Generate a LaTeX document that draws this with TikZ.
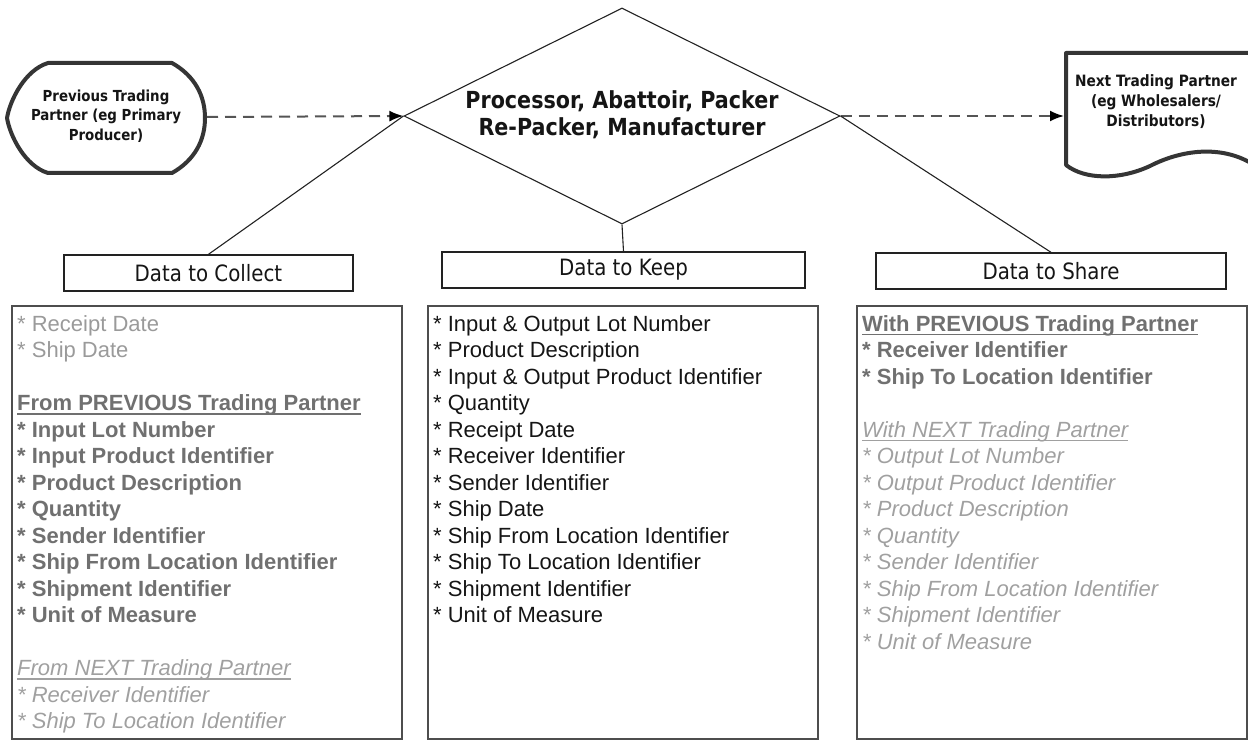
\documentclass[tikz,border=0pt]{standalone}
\usepackage{fontspec}
\setmainfont{Liberation Sans}
\newfontfamily\tah{DejaVu Sans}
\newfontfamily\tahc{DejaVu Sans}[FakeStretch=0.88]
\usetikzlibrary{shapes.geometric,arrows.meta}
\definecolor{edge}{HTML}{222222}
\definecolor{thick}{HTML}{353535}
\definecolor{dashc}{HTML}{555555}
\definecolor{gbold}{HTML}{707070}
\definecolor{greg}{HTML}{9A9A9A}
\definecolor{gital}{HTML}{A0A0A0}
\definecolor{txt}{HTML}{151515}
\begin{document}
\begin{tikzpicture}[x=1pt,y=-1pt,
  shapeline/.style={draw=thick,line width=4pt,line join=round},
  shapetext/.style={font=\tahc\bfseries\fontsize{15.2}{19.5}\selectfont,align=center,text=txt,inner sep=0pt},
  flow/.style={draw=dashc,line width=2pt,dash pattern=on 11pt off 7pt,-{Latex[length=14pt,width=11pt,black]}},
  link/.style={draw=edge,line width=1.1pt},
  headbox/.style={draw=edge,line width=1.4pt,fill=white,inner sep=0pt,font=\tahc\fontsize{22.5}{24}\selectfont,text=txt},
  listbox/.style={draw=edge!80,line width=1.3pt},
  item/.style={anchor=base west,inner sep=0pt,font=\fontsize{22}{26}\selectfont},
  ireg/.style={item,text=greg},
  ibold/.style={item,text=gbold,font=\fontsize{22}{26}\selectfont\bfseries},
  iital/.style={item,text=gital,font=\fontsize{22}{26}\selectfont\itshape},
  iblack/.style={item,text=txt},
  uline/.style={line width=1.4pt}
]
\useasboundingbox (0,0) rectangle (1248,741);

% Previous trading partner (display-like shape)
\path[shapeline,fill=white] (48,63) .. controls (25,70) and (10,100) .. (7,118)
  .. controls (10,136) and (25,166) .. (48,173) -- (172,173)
  .. controls (195,160) and (205,140) .. (205,118)
  .. controls (205,96) and (195,76) .. (172,63) -- cycle;
\node[shapetext] (prev) at (106,116) {Previous Trading\\Partner (eg Primary\\Producer)};
\coordinate (prevE) at (207,117);

% Next trading partner (document shape)
\path[shapeline,fill=white] (1066,53) -- (1066,165)
  .. controls (1085,180) and (1120,180) .. (1150,166)
  .. controls (1185,148) and (1225,146) .. (1254,165) -- (1254,53) -- cycle;
\node[shapetext,font=\tahc\bfseries\fontsize{15.6}{20}\selectfont] (next) at (1156,102) {Next Trading Partner\\(eg Wholesalers/\\Distributors)};
\coordinate (nextW) at (1064,116);

% central diamond
\node[diamond,draw=edge,line width=1.1pt,minimum width=436pt,minimum height=216pt,inner sep=0pt] (proc) at (622,116)
  {\smash{\makebox[0pt]{\raisebox{-7pt}{\tahc\bfseries\fontsize{23.5}{28}\selectfont\color{txt}\begin{tabular}{@{}c@{}}Processor, Abattoir, Packer\\[-1pt]Re-Packer, Manufacturer\end{tabular}}}}};

\draw[flow] (prevE) -- (proc.west);
\draw[flow] (proc.east) -- (nextW);

% header boxes
\node[headbox,minimum width=289pt,minimum height=36pt] (collect) at (208.5,273) {Data to Collect};
\node[headbox,minimum width=363pt,minimum height=36pt] (keep) at (623.5,270) {Data to Keep};
\node[headbox,minimum width=350pt,minimum height=36pt] (share) at (1051,271) {Data to Share};

\draw[link] (proc.west) -- (collect.north);
\draw[link] (proc.south) -- (keep.north);
\draw[link] (proc.east) -- (share.north);

% list boxes
\draw[listbox] (12,306) rectangle (402,739);
\draw[listbox] (428,306) rectangle (818,739);
\draw[listbox] (857,306) rectangle (1247,739);

% left list: Data to Collect
\node[ireg] (c0) at (17,331) {* Receipt Date};
\node[ireg] (c1) at (17,357.5) {* Ship Date};
\node[ibold] (c3) at (17,410.5) {From PREVIOUS Trading Partner};
\draw[uline,gbold] ([yshift=-3.5pt]c3.base west) -- ([yshift=-3.5pt]c3.base east);
\foreach \t [count=\k from 4] in {Input Lot Number,Input Product Identifier,Product Description,Quantity,Sender Identifier,Ship From Location Identifier,Shipment Identifier,Unit of Measure}
  \node[ibold] (c\k) at (17,{331+\k*26.5}) {* \t};
\node[iital] (c13) at (17,675.5) {From NEXT Trading Partner};
\draw[uline,gital] ([yshift=-3.5pt]c13.base west) -- ([yshift=-3.5pt]c13.base east);
\node[iital] (c14) at (17,702) {* Receiver Identifier};
\node[iital] (c15) at (17,728.5) {* Ship To Location Identifier};

% middle list: Data to Keep
\foreach \t [count=\k from 0] in {Input \& Output Lot Number,Product Description,Input \& Output Product Identifier,Quantity,Receipt Date,Receiver Identifier,Sender Identifier,Ship Date,Ship From Location Identifier,Ship To Location Identifier,Shipment Identifier,Unit of Measure}
  \node[iblack] (k\k) at (433,{331+\k*26.5}) {* \t};

% right list: Data to Share
\node[ibold] (s0) at (862,331) {With PREVIOUS Trading Partner};
\draw[uline,gbold] ([yshift=-3.5pt]s0.base west) -- ([yshift=-3.5pt]s0.base east);
\node[ibold] (s1) at (862,357.5) {* Receiver Identifier};
\node[ibold] (s2) at (862,384) {* Ship To Location Identifier};
\node[iital] (s4) at (862,437) {With NEXT Trading Partner};
\draw[uline,gital] ([yshift=-3.5pt]s4.base west) -- ([yshift=-3.5pt]s4.base east);
\foreach \t [count=\k from 5] in {Output Lot Number,Output Product Identifier,Product Description,Quantity,Sender Identifier,Ship From Location Identifier,Shipment Identifier,Unit of Measure}
  \node[iital] (s\k) at (862,{331+\k*26.5}) {* \t};
\end{tikzpicture}
\end{document}
